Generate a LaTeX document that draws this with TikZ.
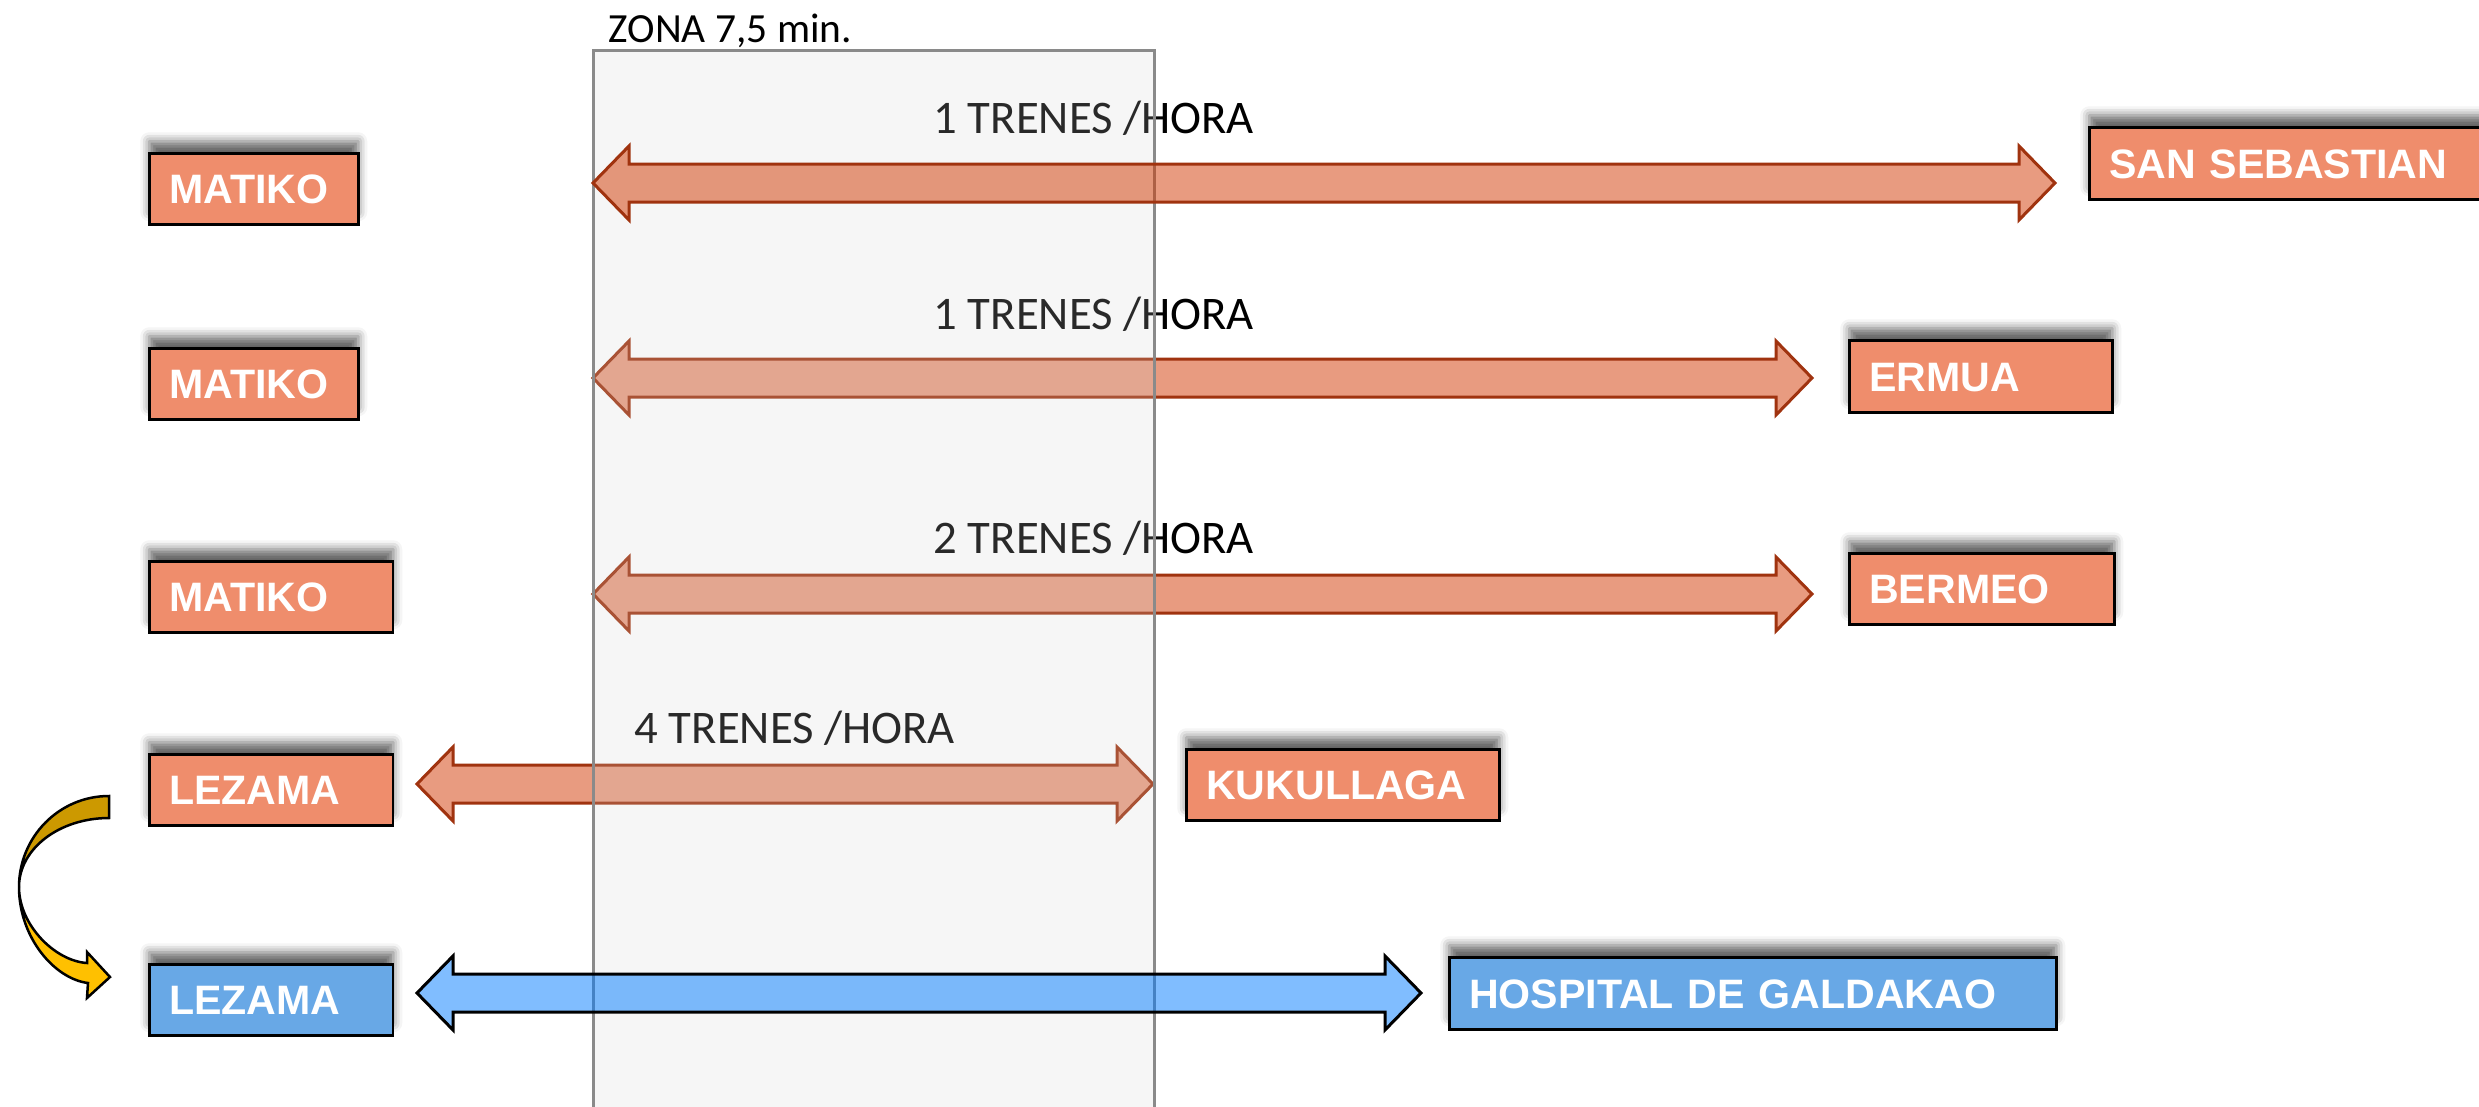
\documentclass[tikz,border=0pt]{standalone}
\usepackage{fontspec}
\setmainfont{Carlito}
\newfontfamily\arialf{Liberation Sans}
\usetikzlibrary{calc,shadows.blur}
\definecolor{salmon}{RGB}{239,141,108}
\definecolor{boxblue}{RGB}{104,168,230}
\definecolor{arrred}{RGB}{209,55,1}
\definecolor{arrline}{RGB}{160,51,15}
\definecolor{arrblue}{RGB}{1,123,255}
\definecolor{zonefill}{RGB}{209,209,209}
\definecolor{zoneline}{RGB}{138,138,138}
\definecolor{golddark}{RGB}{204,153,0}
\definecolor{goldlight}{RGB}{255,192,0}
\newcommand\dbarrow[3]{%
  \path[#3] (#1) -- ++(36,-37) -- ++(0,18) -- ($(#2)+(-36,-19)$) -- ++(0,-18) -- (#2)
    -- ++(-36,37) -- ++(0,-18) -- ($(#1)+(36,19)$) -- ++(0,18) -- cycle;}
\begin{document}
\begin{tikzpicture}[x=0.1mm,y=-0.1mm,
  lbl/.style={anchor=base west,inner sep=0pt,text=black,font=\fontsize{13.3}{16}\selectfont},
  stbox/.style={anchor=north west,draw=black,line width=0.25mm,fill=salmon,text=white,
    inner xsep=2mm,inner ysep=0pt,align=left,text height=2.95mm,text depth=0pt,
    font=\arialf\bfseries\fontsize{11.7}{14}\selectfont,
    blur shadow={shadow xshift=0mm,shadow yshift=1.2mm,shadow blur radius=0.9mm,shadow opacity=60}},
  bluebox/.style={stbox,fill=boxblue},
  redarr/.style={fill=arrred,fill opacity=0.5,draw=arrline,line width=0.3mm},
  bluearr/.style={fill=arrblue,fill opacity=0.5,draw=black,line width=0.3mm},
  curvearr/.style={draw=black,line width=0.25mm,line join=miter}]
\useasboundingbox (0,0) rectangle (2479,1107);

% labels (below the zone overlay)
\node[lbl] (t1) at (933,133) {1 TRENES /HORA};
\node[lbl] (t2) at (933,329) {1 TRENES /HORA};
\node[lbl] (t3) at (933,553) {2 TRENES /HORA};
\node[lbl] (t4) at (634,743) {4 TRENES /HORA};

% arrow end points
\coordinate (r1a) at (593,183);  \coordinate (r1b) at (2055,183);
\coordinate (r2a) at (593,378);  \coordinate (r2b) at (1812,378);
\coordinate (r3a) at (593,594);  \coordinate (r3b) at (1812,594);
\coordinate (r4a) at (417,784);  \coordinate (r4b) at (1153,784);
\coordinate (r5a) at (417,993);  \coordinate (r5b) at (1421,993);

\dbarrow{r2a}{r2b}{redarr}
\dbarrow{r3a}{r3b}{redarr}
\dbarrow{r4a}{r4b}{redarr}

% zone
\path[fill=zonefill,fill opacity=0.2,draw=zoneline,line width=0.3mm] (593,50) rectangle (1154,1125);
\draw[zoneline,line width=0.2mm] (593,50) -- (1154,50);
\node[anchor=base west,inner sep=0pt,font=\fontsize{11.8}{14}\selectfont] (zona) at (608,42) {ZONA 7,5 min.};

\dbarrow{r1a}{r1b}{redarr}
\dbarrow{r5a}{r5b}{bluearr}

% boxes
\node[stbox,minimum height=7.1mm,text width=16.9mm] (m1) at (148,152) {MATIKO};
\node[stbox,minimum height=7.1mm,text width=16.9mm] (m2) at (148,347) {MATIKO};
\node[stbox,minimum height=7.1mm,text width=20.4mm] (m3) at (148,560) {MATIKO};
\node[stbox,minimum height=7.1mm,text width=20.4mm] (lz1) at (148,753) {LEZAMA};
\node[bluebox,minimum height=7.1mm,text width=20.4mm] (lz2) at (148,963) {LEZAMA};
\node[stbox,minimum height=7.2mm,text width=37.2mm] (ss) at (2088,126) {SAN SEBASTIAN};
\node[stbox,minimum height=7.2mm,text width=22.3mm] (er) at (1848,339) {ERMUA};
\node[stbox,minimum height=7.1mm,text width=22.5mm] (be) at (1848,552) {BERMEO};
\node[stbox,minimum height=7.1mm,text width=27.3mm] (ku) at (1185,748) {KUKULLAGA};
\node[bluebox,minimum height=7.2mm,text width=56.7mm] (ho) at (1448,956) {HOSPITAL DE GALDAKAO};

% curved arrow from LEZAMA to LEZAMA
\path[curvearr,fill=golddark] (109,796) .. controls (59,796) and (19,837) .. (19,887)
  .. controls (19,849) and (59,818) .. (109,818) -- cycle;
\path[curvearr,fill=goldlight] (19,887) .. controls (19,938) and (55,979) .. (88,983)
  -- (87,998) -- (110,977) -- (87,952) -- (87,963)
  .. controls (55,961) and (19,925) .. (19,887) -- cycle;
\end{tikzpicture}
\end{document}
